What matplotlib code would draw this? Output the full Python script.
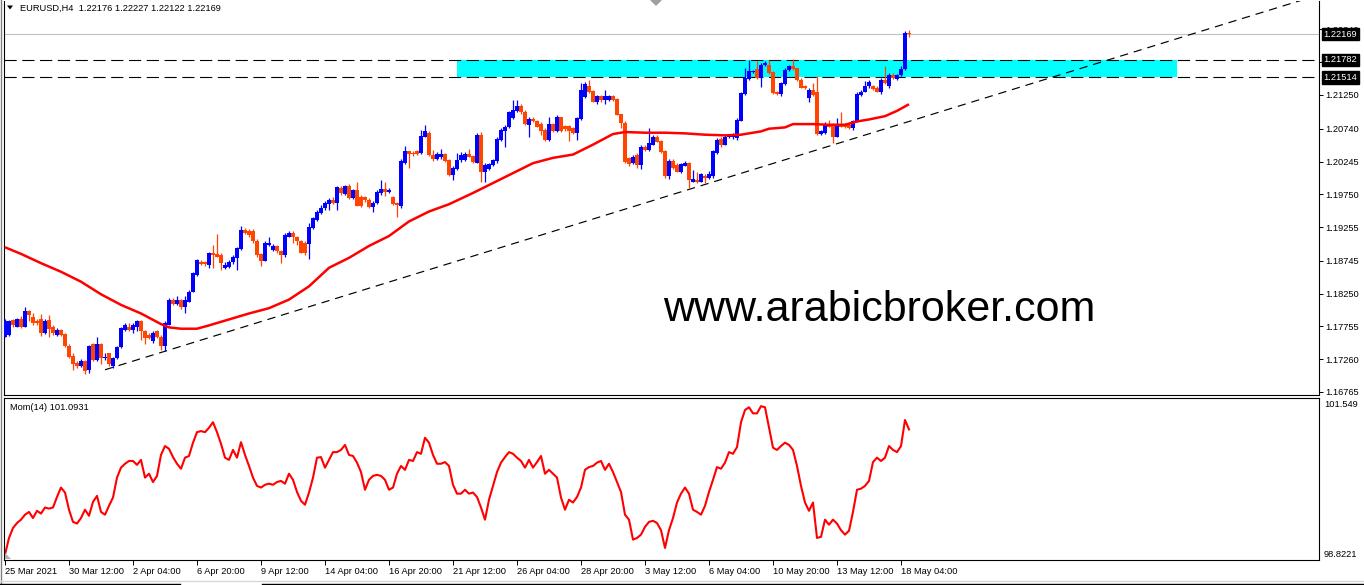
import matplotlib
matplotlib.use("Agg")
import matplotlib.pyplot as plt
import matplotlib.transforms as mtransforms
from matplotlib.lines import Line2D
from matplotlib.patches import Polygon, Rectangle
import numpy as np

# ---------------- data ----------------
opens = [
    1.1760, 1.1763, 1.1785, 1.1775, 1.1787, 1.1775, 1.1799, 1.1789, 1.1784, 1.1787,
    1.1766, 1.1785, 1.1775, 1.1762, 1.1770, 1.1764, 1.1746, 1.1731, 1.1720, 1.1715,
    1.1723, 1.1710, 1.1749, 1.1725, 1.1749, 1.1728, 1.1735, 1.1715, 1.1728, 1.1744,
    1.1770, 1.1775, 1.1770, 1.1775, 1.1783, 1.1769, 1.1763, 1.1753, 1.1768, 1.1760,
    1.1746, 1.1778, 1.1816, 1.1810, 1.1815, 1.1805, 1.1813, 1.1828, 1.1853, 1.1873,
    1.1872, 1.1868, 1.1886, 1.1885, 1.1884, 1.1863, 1.1865, 1.1872, 1.1879, 1.1892,
    1.1921, 1.1920, 1.1920, 1.1905, 1.1885, 1.1875, 1.1899, 1.1891, 1.1897, 1.1889,
    1.1883, 1.1911, 1.1916, 1.1910, 1.1905, 1.1902, 1.1900, 1.1924, 1.1936, 1.1946,
    1.1954, 1.1961, 1.1967, 1.1962, 1.1984, 1.1976, 1.1987, 1.1969, 1.1981, 1.1971,
    1.1971, 1.1967, 1.1956, 1.1962, 1.1977, 1.1983, 1.1979, 1.1971, 1.1962, 1.1957,
    1.2023, 1.2040, 1.2038, 1.2040, 1.2037, 1.2062, 1.2068, 1.2035, 1.2028, 1.2032,
    1.2036, 1.2027, 1.2004, 1.2013, 1.2027, 1.2027, 1.2036, 1.2033, 1.2023, 1.2065,
    1.2009, 1.2013, 1.2019, 1.2025, 1.2057, 1.2070, 1.2076, 1.2090, 1.2101, 1.2109,
    1.2099, 1.2080, 1.2089, 1.2085, 1.2081, 1.2072, 1.2057, 1.2081, 1.2070, 1.2091,
    1.2078, 1.2078, 1.2075, 1.2067, 1.2089, 1.2122, 1.2138, 1.2131, 1.2115, 1.2123,
    1.2118, 1.2118, 1.2123, 1.2119, 1.2096, 1.2082, 1.2030, 1.2022, 1.2035, 1.2019,
    1.2047, 1.2042, 1.2050, 1.2062, 1.2056, 1.2041, 1.2002, 1.2025, 1.2019, 1.2008,
    1.2018, 1.2023, 1.1994, 1.1997, 1.1994, 1.2003, 1.1999, 1.2002, 1.2037, 1.2059,
    1.2050, 1.2061, 1.2061, 1.2060, 1.2086, 1.2126, 1.2149, 1.2159, 1.2164, 1.2150,
    1.2170, 1.2170, 1.2160, 1.2129, 1.2126, 1.2141, 1.2163, 1.2168, 1.2165, 1.2148,
    1.2138, 1.2120, 1.2133, 1.2130, 1.2066, 1.2067, 1.2081, 1.2080, 1.2062, 1.2081,
    1.2080, 1.2080, 1.2075, 1.2085, 1.2125, 1.2130, 1.2138, 1.2138, 1.2136, 1.2130,
    1.2148, 1.2138, 1.2155, 1.2149, 1.2155, 1.2164, 1.22176,
]
highs = [
    1.1786, 1.1785, 1.1787, 1.1788, 1.1791, 1.1805, 1.1801, 1.1795, 1.1787, 1.1794,
    1.1786, 1.1793, 1.1778, 1.1773, 1.1772, 1.1766, 1.1749, 1.1735, 1.1724, 1.1726,
    1.1725, 1.1748, 1.1751, 1.1759, 1.1751, 1.1735, 1.1735, 1.1730, 1.1746, 1.1775,
    1.1780, 1.1780, 1.1780, 1.1785, 1.1785, 1.1770, 1.1765, 1.1768, 1.1770, 1.1763,
    1.1783, 1.1818, 1.1818, 1.1821, 1.1817, 1.1822, 1.1831, 1.1857, 1.1878, 1.1876,
    1.1875, 1.1888, 1.1899, 1.1915, 1.1886, 1.1873, 1.1876, 1.1884, 1.1896, 1.1927,
    1.1924, 1.1922, 1.1922, 1.1907, 1.1887, 1.1904, 1.1911, 1.1900, 1.1899, 1.1891,
    1.1917, 1.1920, 1.1919, 1.1912, 1.1906, 1.1904, 1.1931, 1.1941, 1.1951, 1.1959,
    1.1965, 1.1969, 1.1971, 1.1988, 1.1988, 1.1989, 1.1991, 1.1983, 1.1994, 1.1974,
    1.1973, 1.1969, 1.1965, 1.1982, 1.1996, 1.1994, 1.1984, 1.1973, 1.1964, 1.2028,
    1.2048, 1.2041, 1.2040, 1.2042, 1.2072, 1.2080, 1.2071, 1.2042, 1.2039, 1.2043,
    1.2037, 1.2028, 1.2017, 1.2038, 1.2039, 1.2039, 1.2043, 1.2035, 1.2067, 1.2069,
    1.2022, 1.2023, 1.2029, 1.2061, 1.2075, 1.2080, 1.2101, 1.2117, 1.2117, 1.2111,
    1.2102, 1.2091, 1.2092, 1.2087, 1.2084, 1.2075, 1.2092, 1.2082, 1.2094, 1.2092,
    1.2080, 1.2080, 1.2077, 1.2092, 1.2143, 1.2144, 1.2148, 1.2133, 1.2125, 1.2125,
    1.2133, 1.2125, 1.2125, 1.2121, 1.2097, 1.2086, 1.2032, 1.2034, 1.2037, 1.2049,
    1.2050, 1.2075, 1.2065, 1.2065, 1.2057, 1.2042, 1.2028, 1.2028, 1.2022, 1.2023,
    1.2025, 1.2024, 1.2012, 1.2009, 1.2007, 1.2005, 1.2010, 1.2042, 1.2060, 1.2061,
    1.2065, 1.2064, 1.2067, 1.2090, 1.2130, 1.2165, 1.2178, 1.2163, 1.2176, 1.2173,
    1.2176, 1.2178, 1.2161, 1.2131, 1.2145, 1.2165, 1.2170, 1.2180, 1.2166, 1.2150,
    1.2140, 1.2135, 1.2143, 1.2153, 1.2072, 1.2084, 1.2087, 1.2082, 1.2090, 1.2099,
    1.2082, 1.2082, 1.2087, 1.2130, 1.2133, 1.2146, 1.2148, 1.2140, 1.2138, 1.2150,
    1.2168, 1.2158, 1.2158, 1.2156, 1.2168, 1.2221, 1.22227,
]
lows = [
    1.1759, 1.1761, 1.1775, 1.1774, 1.1773, 1.1774, 1.1783, 1.1778, 1.1778, 1.1761,
    1.1764, 1.1760, 1.1763, 1.1761, 1.1761, 1.1744, 1.1728, 1.1710, 1.1712, 1.1714,
    1.1704, 1.1705, 1.1723, 1.1723, 1.1719, 1.1725, 1.1715, 1.1713, 1.1726, 1.1743,
    1.1768, 1.1768, 1.1766, 1.1768, 1.1755, 1.1749, 1.1756, 1.1751, 1.1758, 1.1740,
    1.1739, 1.1777, 1.1808, 1.1808, 1.1802, 1.1795, 1.1812, 1.1827, 1.1852, 1.1868,
    1.1867, 1.1863, 1.1863, 1.1880, 1.1860, 1.1862, 1.1863, 1.1870, 1.1861, 1.1891,
    1.1915, 1.1911, 1.1902, 1.1881, 1.1866, 1.1874, 1.1897, 1.1890, 1.1887, 1.1871,
    1.1881, 1.1910, 1.1901, 1.1899, 1.1886, 1.1883, 1.1877, 1.1922, 1.1935, 1.1945,
    1.1952, 1.1952, 1.1961, 1.1952, 1.1974, 1.1974, 1.1968, 1.1968, 1.1957, 1.1956,
    1.1964, 1.1954, 1.1949, 1.1961, 1.1974, 1.1972, 1.1977, 1.1959, 1.1941, 1.1955,
    1.2021, 1.2014, 1.2033, 1.2035, 1.2036, 1.2061, 1.2033, 1.2026, 1.2027, 1.2029,
    1.2024, 1.2003, 1.1997, 1.2012, 1.2024, 1.2025, 1.2031, 1.2022, 1.2022, 1.1994,
    1.1994, 1.2012, 1.2018, 1.2023, 1.2056, 1.2047, 1.2075, 1.2089, 1.2100, 1.2096,
    1.2080, 1.2062, 1.2084, 1.2076, 1.2065, 1.2056, 1.2056, 1.2069, 1.2069, 1.2069,
    1.2071, 1.2055, 1.2066, 1.2057, 1.2087, 1.2121, 1.2128, 1.2114, 1.2112, 1.2115,
    1.2112, 1.2116, 1.2116, 1.2094, 1.2075, 1.2023, 1.2017, 1.2020, 1.2015, 1.2013,
    1.2040, 1.2040, 1.2049, 1.2054, 1.2037, 1.2000, 1.1998, 1.2013, 1.2008, 1.2007,
    1.2017, 1.1984, 1.1993, 1.1992, 1.1993, 1.1992, 1.1998, 1.2000, 1.2036, 1.2047,
    1.2049, 1.2060, 1.2059, 1.2057, 1.2085, 1.2125, 1.2148, 1.2158, 1.2149, 1.2137,
    1.2169, 1.2156, 1.2126, 1.2125, 1.2124, 1.2140, 1.2161, 1.2163, 1.2146, 1.2135,
    1.2134, 1.2115, 1.2124, 1.2065, 1.2065, 1.2066, 1.2076, 1.2052, 1.2061, 1.2076,
    1.2075, 1.2074, 1.2072, 1.2084, 1.2124, 1.2129, 1.2136, 1.2133, 1.2129, 1.2127,
    1.2141, 1.2136, 1.2149, 1.2148, 1.2154, 1.2163, 1.22122,
]
closes = [
    1.1783, 1.1783, 1.1777, 1.1787, 1.1775, 1.1799, 1.1792, 1.1780, 1.1780, 1.1765,
    1.1784, 1.1772, 1.1765, 1.1770, 1.1762, 1.1746, 1.1730, 1.1718, 1.1715, 1.1723,
    1.1708, 1.1746, 1.1725, 1.1749, 1.1728, 1.1730, 1.1718, 1.1728, 1.1744, 1.1773,
    1.1778, 1.1770, 1.1778, 1.1783, 1.1768, 1.1758, 1.1758, 1.1766, 1.1760, 1.1746,
    1.1780, 1.1816, 1.1810, 1.1815, 1.1805, 1.1815, 1.1828, 1.1856, 1.1876, 1.1870,
    1.1869, 1.1887, 1.1884, 1.1881, 1.1871, 1.1868, 1.1873, 1.1881, 1.1894, 1.1921,
    1.1916, 1.1914, 1.1904, 1.1884, 1.1875, 1.1901, 1.1901, 1.1897, 1.1889, 1.1883,
    1.1914, 1.1916, 1.1910, 1.1905, 1.1887, 1.1886, 1.1925, 1.1939, 1.1949, 1.1955,
    1.1962, 1.1966, 1.1962, 1.1986, 1.1977, 1.1987, 1.1969, 1.1981, 1.1958, 1.1958,
    1.1966, 1.1956, 1.1962, 1.1979, 1.1983, 1.1979, 1.1982, 1.1961, 1.1959, 1.2026,
    1.2040, 1.2036, 1.2036, 1.2036, 1.2063, 1.2070, 1.2035, 1.2028, 1.2036, 1.2036,
    1.2026, 1.2004, 1.2014, 1.2027, 1.2035, 1.2036, 1.2032, 1.2024, 1.2065, 1.2009,
    1.2019, 1.2020, 1.2027, 1.2059, 1.2072, 1.2077, 1.2099, 1.2102, 1.2109, 1.2099,
    1.2081, 1.2089, 1.2085, 1.2077, 1.2071, 1.2057, 1.2081, 1.2070, 1.2091, 1.2070,
    1.2073, 1.2070, 1.2067, 1.2090, 1.2133, 1.2141, 1.2130, 1.2115, 1.2123, 1.2118,
    1.2123, 1.2123, 1.2118, 1.2095, 1.2082, 1.2024, 1.2020, 1.2032, 1.2019, 1.2047,
    1.2042, 1.2052, 1.2062, 1.2054, 1.2039, 1.2002, 1.2025, 1.2014, 1.2009, 1.2020,
    1.2023, 1.1997, 1.1998, 1.1993, 1.2005, 1.1999, 1.2005, 1.2040, 1.2057, 1.2049,
    1.2062, 1.2062, 1.2065, 1.2087, 1.2128, 1.2150, 1.2161, 1.2161, 1.2151, 1.2170,
    1.2173, 1.2158, 1.2128, 1.2127, 1.2143, 1.2163, 1.2168, 1.2164, 1.2148, 1.2136,
    1.2135, 1.2133, 1.2125, 1.2066, 1.2070, 1.2081, 1.2077, 1.2062, 1.2081, 1.2077,
    1.2076, 1.2075, 1.2085, 1.2127, 1.2130, 1.2138, 1.2145, 1.2134, 1.2130, 1.2148,
    1.2143, 1.2155, 1.2150, 1.2155, 1.2164, 1.2218, 1.22169,
]

# moving average (read at selected bars)
ma_bars = [0, 4, 9, 14, 19, 24, 29, 34, 39, 41, 44, 48, 51, 56, 61, 66, 71, 76, 81,
           86, 91, 96, 101, 106, 111, 117, 122, 127, 132, 137, 142, 147, 152, 155,
           160, 165, 170, 175, 180, 184, 189, 191, 195, 197, 202, 206, 210, 213, 216,
           220, 223, 226]
ma_values = [1.1895, 1.1885, 1.1871, 1.1858, 1.1843, 1.1824, 1.1808, 1.1795, 1.1779,
             1.1774, 1.1772, 1.1772, 1.1777, 1.1786, 1.1795, 1.1803, 1.1816, 1.1836,
             1.1864, 1.1879, 1.1897, 1.1912, 1.1934, 1.1949, 1.1960, 1.1977, 1.1992,
             1.2007, 1.2022, 1.2030, 1.2035, 1.2050, 1.2066, 1.2069, 1.2068, 1.2068,
             1.2067, 1.2065, 1.2064, 1.2065, 1.2070, 1.2074, 1.2076, 1.2081, 1.2081,
             1.2080, 1.2080, 1.2085, 1.2088, 1.2093, 1.2101, 1.2111]

momentum = [
    98.83, 99.13, 99.31, 99.40, 99.46, 99.55, 99.60, 99.49, 99.62, 99.57,
    99.68, 99.66, 99.68, 99.87, 100.04, 99.95, 99.64, 99.42, 99.39, 99.49,
    99.64, 99.53, 99.78, 99.89, 99.60, 99.55, 99.71, 99.86, 100.22, 100.40,
    100.47, 100.52, 100.52, 100.45, 100.54, 100.22, 100.29, 100.14, 100.25, 100.63,
    100.79, 100.74, 100.59, 100.47, 100.38, 100.58, 100.61, 100.85, 101.04, 101.06,
    101.04, 101.12, 101.22, 101.04, 100.83, 100.58, 100.54, 100.72, 100.58, 100.86,
    100.63, 100.43, 100.22, 100.07, 100.04, 100.09, 100.11, 100.09, 100.14, 100.16,
    100.11, 100.29, 100.18, 99.96, 99.80, 99.73, 99.95, 100.22, 100.58, 100.59,
    100.40, 100.54, 100.68, 100.68, 100.72, 100.81, 100.63, 100.61, 100.49, 100.32,
    100.00, 100.18, 100.25, 100.27, 100.25, 100.18, 100.00, 100.04, 100.29, 100.43,
    100.36, 100.54, 100.52, 100.68, 100.65, 100.94, 100.85, 100.63, 100.47, 100.47,
    100.50, 100.43, 100.09, 99.93, 99.93, 100.00, 99.93, 99.95, 99.87, 99.68,
    99.46, 99.82, 100.07, 100.32, 100.49, 100.59, 100.68, 100.65, 100.58, 100.52,
    100.40, 100.54, 100.40, 100.50, 100.61, 100.29, 100.36, 100.29, 100.22, 99.86,
    99.64, 99.82, 99.77, 99.87, 100.04, 100.36, 100.41, 100.43, 100.49, 100.52,
    100.36, 100.47, 100.32, 100.14, 99.96, 99.55, 99.46, 99.10, 99.13, 99.19,
    99.33, 99.42, 99.44, 99.40, 99.27, 98.95, 99.27, 99.49, 99.77, 99.93,
    100.04, 99.93, 99.64, 99.60, 99.55, 99.71, 99.96, 100.18, 100.41, 100.38,
    100.49, 100.68, 100.65, 100.77, 101.22, 101.44, 101.49, 101.38, 101.38, 101.51,
    101.49, 101.12, 100.76, 100.72, 100.79, 100.85, 100.81, 100.72, 100.43, 100.07,
    99.77, 99.62, 99.77, 99.13, 99.15, 99.46, 99.37, 99.46, 99.39, 99.27,
    99.19, 99.26, 99.60, 100.00, 100.02, 100.07, 100.16, 100.50, 100.58, 100.52,
    100.58, 100.79, 100.72, 100.68, 100.79, 101.26, 101.09,
]

date_labels = ['25 Mar 2021', '30 Mar 12:00', '2 Apr 04:00', '6 Apr 20:00', '9 Apr 12:00',
               '14 Apr 04:00', '16 Apr 20:00', '21 Apr 12:00', '26 Apr 04:00',
               '28 Apr 20:00', '3 May 12:00', '6 May 04:00', '10 May 20:00',
               '13 May 12:00', '18 May 04:00']
date_label_bars = [0, 16, 32, 48, 64, 80, 96, 112, 128, 144, 160, 176, 192, 208, 224]

price_ticks = [1.16765, 1.17260, 1.17755, 1.18250, 1.18745, 1.19255, 1.19750,
               1.20245, 1.20740, 1.21250, 1.21745, 1.22240]
zone_top, zone_bottom = 1.21782, 1.21514
zone_bars = (113, 293)
bid_price = 1.22169
trend_anchor_bars = [25, 226]
trend_anchor_prices = [1.1710, 1.2085]
mom_max, mom_min = 101.549, 98.8221
title_text = 'EURUSD,H4  1.22176 1.22227 1.22122 1.22169'
mom_title = 'Mom(14) 101.0931'
watermark = 'www.arabicbroker.com'

# ---------------- figure ----------------
W, H = 1364, 585
fig = plt.figure(figsize=(W / 100, H / 100), dpi=100)
fig.patch.set_facecolor('white')
FONT = 'Liberation Sans'
FS = 6.7


def px_axes(x0, y0, x1, y1):
    return fig.add_axes([x0 / W, 1 - y1 / H, (x1 - x0) / W, (y1 - y0) / H])


ax = px_axes(4, 1, 1319, 395)
axm = px_axes(4, 398, 1319, 560)

BULL = '#0000FF'
BEAR = '#FF4500'
xlim = (-0.25, 328.5)

o = np.array(opens)
h = np.array(highs)
l = np.array(lows)
c = np.array(closes)
xb = np.arange(len(c))
cols = np.where(c >= o, BULL, BEAR)

# zone + horizontal lines
ax.add_patch(Rectangle((zone_bars[0], zone_bottom), zone_bars[1] - zone_bars[0],
                       zone_top - zone_bottom, facecolor='#00FFFF', edgecolor='none', zorder=1))
ax.axhline(bid_price, color='#C0C0C0', lw=0.8, zorder=1.5)
for p in (zone_top, zone_bottom):
    ax.axhline(p, color='black', lw=0.8, dashes=(11, 5), zorder=2)

# trend line (ray)
slope = (trend_anchor_prices[1] - trend_anchor_prices[0]) / (trend_anchor_bars[1] - trend_anchor_bars[0])
x_end = xlim[1]
y_end = trend_anchor_prices[0] + slope * (x_end - trend_anchor_bars[0])
ax.plot([trend_anchor_bars[0], x_end], [trend_anchor_prices[0], y_end],
        color='black', lw=0.85, dashes=(7, 5), zorder=2)

# candles
ax.vlines(xb, l, h, colors=cols, lw=0.9, zorder=3)
body = np.maximum(np.abs(c - o), 0.00014)
ax.bar(xb, body, bottom=np.minimum(o, c), width=0.8, color=cols, linewidth=0, zorder=4)

# moving average
ax.plot(ma_bars, ma_values, color='#FF0000', lw=1.8, zorder=5, solid_capstyle='butt')

ax.set_xlim(*xlim)
ax.set_ylim(1.16719, 1.22669)
ax.set_xticks([])
ax.yaxis.tick_right()
ax.set_yticks(price_ticks)
ax.set_yticklabels([f'{p:.5f}' for p in price_ticks], fontfamily=FONT, fontsize=FS)
ax.tick_params(axis='y', length=3, width=0.7, pad=1.5, colors='black')
for s in ax.spines.values():
    s.set_linewidth(0.8)
ax.spines['top'].set_visible(False)

# boxed price labels
tb = mtransforms.blended_transform_factory(ax.transAxes, ax.transData)
for p in (bid_price, zone_top, zone_bottom):
    ax.text(1 + 4.5 / 1315, p, f'{p:.5f}', transform=tb, ha='left', va='center',
            color='white', fontfamily=FONT, fontsize=FS, zorder=10, clip_on=False,
            bbox=dict(boxstyle='square,pad=0.18', fc='black', ec='black'))

# title
fig.text(20 / W, 1 - 8 / H, title_text, ha='left', va='center', fontfamily=FONT,
         fontsize=FS, color='black')
fig.patches.append(Polygon([[7 / W, 1 - 5.5 / H], [13 / W, 1 - 5.5 / H], [10 / W, 1 - 9.5 / H]],
                           closed=True, transform=fig.transFigure, fc='black', ec='none'))

# watermark
ax.text(0.6654, 0.188, watermark, transform=ax.transAxes, ha='center', va='baseline',
        fontfamily=FONT, fontsize=31, color='black', zorder=6)

# momentum pane
axm.plot(np.arange(len(momentum)), momentum, color='#FF0000', lw=1.5)
axm.set_xlim(*xlim)
axm.set_ylim(98.7318, 101.6574)
axm.set_yticks([])
axm.set_xticks(date_label_bars)
axm.set_xticklabels(date_labels, fontfamily=FONT, fontsize=FS)
for t in axm.get_xticklabels():
    t.set_horizontalalignment('left')
axm.tick_params(axis='x', length=3.5, width=0.7, pad=1.5, colors='black')
for s in axm.spines.values():
    s.set_linewidth(0.8)
tbm = mtransforms.blended_transform_factory(axm.transAxes, axm.transData)
axm.text(1 + 5 / 1315, mom_max, f'{mom_max}', transform=tbm, ha='left', va='center',
         fontfamily=FONT, fontsize=FS, clip_on=False)
axm.text(1 + 5 / 1315, mom_min, f'{mom_min}', transform=tbm, ha='left', va='center',
         fontfamily=FONT, fontsize=FS, clip_on=False)
axm.text(6 / 1315, 1 - 9 / 162, mom_title, transform=axm.transAxes, ha='left', va='center',
         fontfamily=FONT, fontsize=FS, color='black')

# window frame details
fig.add_artist(Line2D([0.5 / W, 0.5 / W], [0, 1], color='#808080', lw=1))
fig.add_artist(Line2D([0, 180 / W], [1 - 583.5 / H, 1 - 583.5 / H], color='black', lw=1))
fig.add_artist(Line2D([262 / W, 1], [1 - 583.5 / H, 1 - 583.5 / H], color='black', lw=1))
fig.add_artist(Line2D([0, 1], [1 - 581 / H, 1 - 581 / H], color='#D8D8D8', lw=1))
fig.patches.append(Polygon([[650 / W, 1.0], [662 / W, 1.0], [656 / W, 1 - 6 / H]], closed=True,
                           transform=fig.transFigure, fc='#A0A0A0', ec='none'))
fig.patches.append(Polygon([[5 / W, 1 - 553 / H], [5 / W, 1 - 559 / H], [11 / W, 1 - 559 / H]],
                           closed=True, transform=fig.transFigure, fc='#B0B0B0', ec='none'))

fig.savefig('out.png', dpi=100, facecolor='white')
